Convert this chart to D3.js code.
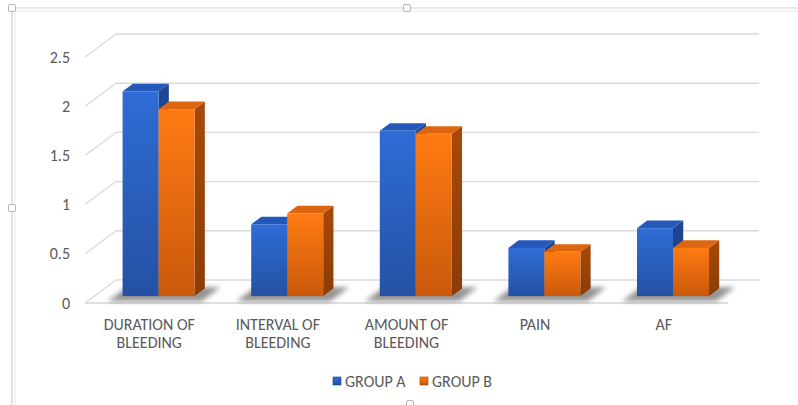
<!DOCTYPE html>
<html>
<head>
<meta charset="utf-8">
<script src="https://cdn.jsdelivr.net/npm/d3@7"></script>
<style>
  html, body { margin: 0; padding: 0; background: #fff; }
  svg text { font-family: Carlito, Lato, "Open Sans", sans-serif; fill: #595959; }
</style>
</head>
<body>
<svg id="chart" width="798" height="405"></svg>
<script>
// ---- data ----
const categories = ["DURATION OF BLEEDING", "INTERVAL OF BLEEDING", "AMOUNT OF BLEEDING", "PAIN", "AF"];
const seriesNames = ["GROUP A", "GROUP B"];
const groupA = [2.08, 0.73, 1.68, 0.49, 0.69];
const groupB = [1.90, 0.84, 1.65, 0.45, 0.49];
const yTicks = [0, 0.5, 1, 1.5, 2, 2.5];

// ---- layout ----
const svg = d3.select("#chart");
const x0 = 85, W = 643;           // front floor edge
const depth = { dx: 31, dy: -23 }; // floor depth vector
const barFront = 0.30, barDepth = 0.33;

const y = d3.scaleLinear().domain([0, 2.5]).range([303, 57]);
const xCat = d3.scaleBand().domain(categories).range([0, W]).paddingInner(0).paddingOuter(0);
const xSer = d3.scaleBand().domain(seriesNames).range([0, xCat.bandwidth()]).paddingInner(0).paddingOuter(0.786);

const palette = {
  "GROUP A": { top: "#2558BB", side: "#1C418C", f1: "#2F6CD6", f2: "#2451A3" },
  "GROUP B": { top: "#DD6611", side: "#9C4409", f1: "#FF7B13", f2: "#C9590B" }
};

const defs = svg.append("defs");
seriesNames.forEach((s, i) => {
  const g = defs.append("linearGradient").attr("id", "gf" + i).attr("x1", 0).attr("y1", 0).attr("x2", 0).attr("y2", 1);
  g.append("stop").attr("offset", "0%").attr("stop-color", palette[s].f1);
  g.append("stop").attr("offset", "100%").attr("stop-color", palette[s].f2);
  const gs = defs.append("linearGradient").attr("id", "gs" + i).attr("x1", 0).attr("y1", 0).attr("x2", 0).attr("y2", 1);
  gs.append("stop").attr("offset", "0%").attr("stop-color", d3.color(palette[s].side).brighter(0.2));
  gs.append("stop").attr("offset", "100%").attr("stop-color", d3.color(palette[s].side).darker(0.35));
});
const blur = defs.append("filter").attr("id", "blur").attr("x", "-30%").attr("y", "-60%").attr("width", "160%").attr("height", "220%");
blur.append("feGaussianBlur").attr("stdDeviation", 2.6);

// ---- selection frame ----
const frame = svg.append("g");
frame.append("path").attr("d", "M12,405 V8 H798").attr("fill", "none").attr("stroke", "#cfcfcf").attr("stroke-width", 1.2);
frame.append("path").attr("d", "M15,405 V11 H798").attr("fill", "none").attr("stroke", "#e6e6e6").attr("stroke-width", 1);
[[12, 8], [12, 208], [407, 8], [410, 404]].forEach(([hx, hy]) => {
  frame.append("rect").attr("x", hx - 3.5).attr("y", hy - 3.5).attr("width", 7).attr("height", 7)
    .attr("rx", 1.5).attr("fill", "#fff").attr("stroke", "#b5b5b5").attr("stroke-width", 1);
});

// ---- walls / grid ----
const grid = svg.append("g");
yTicks.forEach(v => {
  grid.append("line")
    .attr("x1", x0).attr("y1", y(v)).attr("x2", x0 + depth.dx).attr("y2", y(v) + depth.dy)
    .attr("stroke", "#dadada").attr("stroke-width", 1.3);
  grid.append("line")
    .attr("x1", x0 + depth.dx).attr("y1", y(v) + depth.dy).attr("x2", x0 + depth.dx + W).attr("y2", y(v) + depth.dy)
    .attr("stroke", "#d9d9d9").attr("stroke-width", 1.4);
});
grid.append("line").attr("x1", x0).attr("y1", y(0)).attr("x2", x0 + W).attr("y2", y(0))
  .attr("stroke", "#d6d6d6").attr("stroke-width", 1.6);

// y tick labels
svg.append("g").selectAll("text").data(yTicks).join("text")
  .attr("x", 70).attr("y", d => y(d) + 5.5)
  .attr("text-anchor", "end").attr("font-size", 16)
  .text(d => String(d));

// ---- bars ----
const series = [groupA, groupB];
const fx = f => depth.dx * f, fy = f => depth.dy * f;
const bars = svg.append("g");

categories.forEach((c, ci) => {
  // shadow on the floor
  const gx0 = x0 + xCat(c) + xSer(seriesNames[0]);
  const gx1 = x0 + xCat(c) + xSer(seriesNames[1]) + xSer.bandwidth();
  const s0 = 0.08, s1 = barFront + barDepth + 0.05;
  const sh = d3.path();
  sh.moveTo(gx0 - 8 + fx(s0), y(0) + fy(s0));
  sh.lineTo(gx1 + 14 + fx(s0), y(0) + fy(s0));
  sh.lineTo(gx1 + 14 + fx(s1), y(0) + fy(s1));
  sh.lineTo(gx0 - 8 + fx(s1), y(0) + fy(s1));
  sh.closePath();
  bars.append("path").attr("d", sh.toString()).attr("fill", "#3c3c3c").attr("opacity", 0.55).attr("filter", "url(#blur)");

  seriesNames.forEach((s, si) => {
    const v = series[si][ci];
    const bx = x0 + xCat(c) + xSer(s) + fx(barFront);
    const bw = xSer.bandwidth();
    const yb = y(0) + fy(barFront);
    const yt = y(v) + fy(barFront);
    const ddx = fx(barDepth), ddy = fy(barDepth);
    const g = bars.append("g");
    // side face
    g.append("path").attr("d", `M${bx + bw},${yt} L${bx + bw + ddx},${yt + ddy} L${bx + bw + ddx},${yb + ddy} L${bx + bw},${yb} Z`)
      .attr("fill", `url(#gs${si})`);
    // top face
    g.append("path").attr("d", `M${bx},${yt} L${bx + ddx},${yt + ddy} L${bx + bw + ddx},${yt + ddy} L${bx + bw},${yt} Z`)
      .attr("fill", palette[s].top);
    // front face
    g.append("rect").attr("x", bx).attr("y", yt).attr("width", bw).attr("height", yb - yt)
      .attr("fill", `url(#gf${si})`);
  });
});

// ---- category labels ----
const lab = svg.append("g");
categories.forEach(c => {
  const words = c.split(" ");
  const lines = words.length > 1 ? [words.slice(0, -1).join(" "), words[words.length - 1]] : [c];
  const cx = x0 + xCat(c) + xCat.bandwidth() / 2;
  lines.forEach((ln, li) => {
    lab.append("text").attr("x", cx).attr("y", 329.5 + li * 18.5)
      .attr("text-anchor", "middle").attr("font-size", 16).text(ln);
  });
});

// ---- legend ----
const leg = svg.append("g");
const legX = [333, 420];
seriesNames.forEach((s, i) => {
  leg.append("rect").attr("x", legX[i]).attr("y", 377).attr("width", 8).attr("height", 8)
    .attr("fill", `url(#gf${i})`).attr("stroke", palette[s].side).attr("stroke-width", 0.6);
  leg.append("text").attr("x", legX[i] + 12).attr("y", 386.5).attr("font-size", 16).text(s);
});
</script>
</body>
</html>
